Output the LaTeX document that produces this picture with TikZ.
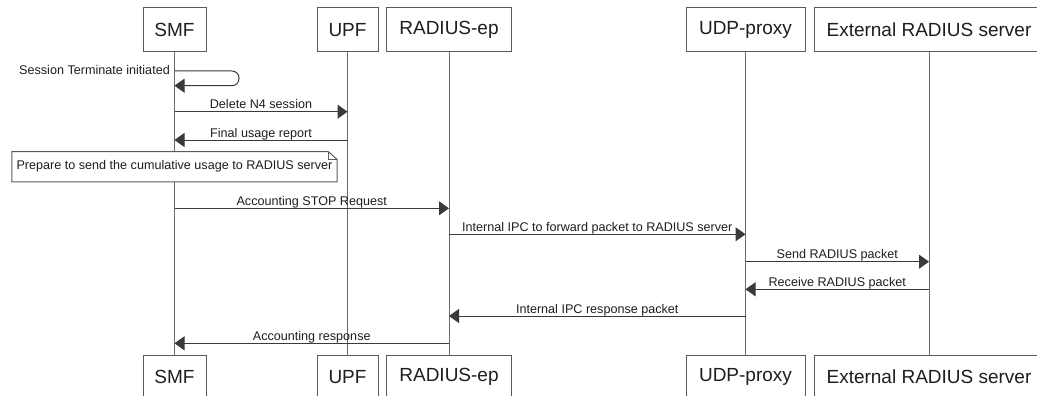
\documentclass[tikz,border=0pt]{standalone}
\usepackage{fontspec}
\setmainfont{Liberation Sans}
\usetikzlibrary{arrows.meta,calc}
\definecolor{linec}{HTML}{5A5A5A}
\definecolor{lifec}{HTML}{6A6A6A}
\definecolor{arrowc}{HTML}{3A3A3A}
\definecolor{textc}{HTML}{1E1E1E}
\begin{document}
\begin{tikzpicture}[x=1pt,y=-1pt,
  actor/.style={draw=linec, fill=white, line width=1pt, minimum height=44pt, inner sep=0pt, font=\fontsize{19}{21}\selectfont, text=textc},
  life/.style={draw=lifec, line width=0.9pt},
  msg/.style={draw=arrowc, line width=1pt, -{Triangle[length=10pt,width=14pt]}},
  lbl/.style={font=\fontsize{12.6}{14}\selectfont, text=textc, inner sep=0pt, anchor=base, yshift=3pt},
  notebox/.style={font=\fontsize{12.6}{14}\selectfont, text=textc, inner sep=0pt, minimum width=325pt, minimum height=30pt},
]
\useasboundingbox (0,0) rectangle (1037,396);
\clip (0,0) rectangle (1037,396);
% actors top
\node[actor, minimum width=63pt]  (smf) at (174.5,30) {SMF};
\node[actor, minimum width=61pt]  (upf) at (347.5,30) {UPF};
\node[actor, minimum width=125pt] (rad) at (449,30) {RADIUS-ep};
\node[actor, minimum width=119pt] (udp) at (745.5,30) {UDP-proxy};
\node[actor, minimum width=230pt] (ext) at (929,30) {External RADIUS server};
% actors bottom
\node[actor, minimum width=63pt]  (smfb) at (174.5,377) {SMF};
\node[actor, minimum width=61pt]  (upfb) at (347.5,377) {UPF};
\node[actor, minimum width=125pt] (radb) at (449,377) {RADIUS-ep};
\node[actor, minimum width=119pt] (udpb) at (745.5,377) {UDP-proxy};
\node[actor, minimum width=230pt] (extb) at (929,377) {External RADIUS server};
% lifelines
\draw[life] (smf) -- (smfb);
\draw[life] (upf) -- (upfb);
\draw[life] (rad) -- (radb);
\draw[life] (udp) -- (udpb);
\draw[life] (ext) -- (extb);
% self message
\coordinate (s1) at (smf |- 0,71);
\coordinate (s2) at (smf |- 0,85.7);
\draw[msg, rounded corners=7pt] (s1) -- (239,71) -- (239,85.7) -- (s2);
\node[font=\fontsize{12.6}{14}\selectfont, text=textc, inner sep=0pt, anchor=base east] (selflbl) at (170,75) {Session Terminate initiated};
% messages
\draw[msg] (smf |- 0,111.7) -- node[lbl] {Delete N4 session} (upf |- 0,111.7);
\draw[msg] (upf |- 0,140) -- node[lbl] {Final usage report} (smf |- 0,140);
% note
\node[notebox] (note) at (174.5,166.7) {Prepare to send the cumulative usage to RADIUS server};
\fill[white] (note.north west) rectangle (note.south east);
\draw[linec, line width=1pt] (note.north west) -- ([xshift=-9pt]note.north east) -- ([yshift=-8pt]note.north east) -- (note.south east) -- (note.south west) -- cycle;
\draw[linec, line width=0.8pt] ([xshift=-9pt]note.north east) -- ([xshift=-9pt,yshift=-8pt]note.north east) -- ([yshift=-8pt]note.north east);
\node[notebox] at (note.center) {Prepare to send the cumulative usage to RADIUS server};
\draw[msg] (smf |- 0,208.3) -- node[lbl] {Accounting STOP Request} (rad |- 0,208.3);
\draw[msg] (rad |- 0,234.3) -- node[lbl] {Internal IPC to forward packet to RADIUS server} (udp |- 0,234.3);
\draw[msg] (udp |- 0,261.7) -- node[lbl] {Send RADIUS packet} (ext |- 0,261.7);
\draw[msg] (ext |- 0,289.3) -- node[lbl] {Receive RADIUS packet} (udp |- 0,289.3);
\draw[msg] (udp |- 0,316) -- node[lbl] {Internal IPC response packet} (rad |- 0,316);
\draw[msg] (rad |- 0,343.3) -- node[lbl] {Accounting response} (smf |- 0,343.3);
\end{tikzpicture}
\end{document}
